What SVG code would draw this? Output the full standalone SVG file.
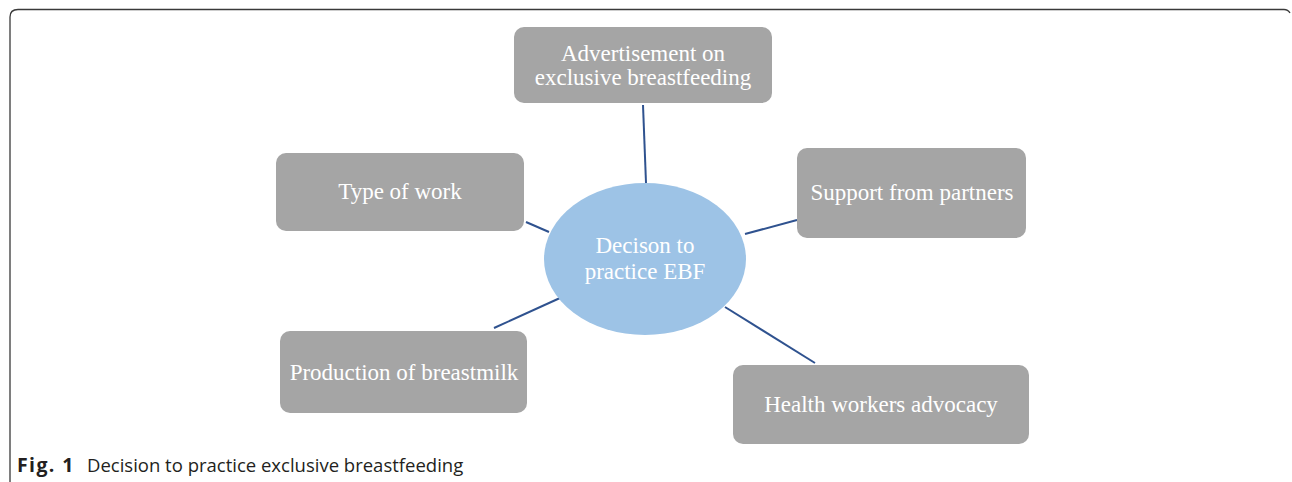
<svg xmlns="http://www.w3.org/2000/svg" width="1292" height="482" viewBox="0 0 1292 482">
  <style>
    .box { fill: #A5A5A5; }
    .lbl { font-family: "Liberation Serif", "Times New Roman", serif; font-size: 23px; fill: #FFFFFF; text-anchor: middle; }
    .link { stroke: #2F528F; stroke-width: 2; fill: none; }
    .cap { font-family: "Open Sans", "Liberation Sans", sans-serif; font-size: 18.5px; fill: #231F20; }
  </style>
  <rect width="1292" height="482" fill="#FFFFFF"/>

  <!-- figure frame: open at the bottom -->
  <path d="M10,482 V17 Q10,9.5 18,9.5 H1284 Q1288,9.5 1290,13" fill="none" stroke="#3A3A3A" stroke-width="1.3"/>

  <g id="connectors">
    <line class="link" x1="643" y1="105" x2="646" y2="183"/>
    <line class="link" x1="526" y1="222" x2="549" y2="232"/>
    <line class="link" x1="745" y1="234" x2="797" y2="220"/>
    <line class="link" x1="494" y1="328" x2="560" y2="298"/>
    <line class="link" x1="725" y1="307" x2="815" y2="363"/>
  </g>

  <g id="center">
    <ellipse cx="645" cy="259" rx="101" ry="76" fill="#9DC3E6"/>
    <text class="lbl" x="645" y="253">Decison to</text>
    <text class="lbl" x="645" y="279">practice EBF</text>
  </g>

  <g id="advertisement">
    <rect class="box" x="514" y="27" width="258" height="76" rx="10"/>
    <text class="lbl" x="643" y="61">Advertisement on</text>
    <text class="lbl" x="643" y="85">exclusive breastfeeding</text>
  </g>

  <g id="type-of-work">
    <rect class="box" x="276" y="153" width="248" height="78" rx="10"/>
    <text class="lbl" x="400" y="199">Type of work</text>
  </g>

  <g id="support-from-partners">
    <rect class="box" x="797" y="148" width="229" height="90" rx="10"/>
    <text class="lbl" x="912" y="200">Support from partners</text>
  </g>

  <g id="production-of-breastmilk">
    <rect class="box" x="280" y="331" width="247" height="82" rx="10"/>
    <text class="lbl" x="404" y="380">Production of breastmilk</text>
  </g>

  <g id="health-workers-advocacy">
    <rect class="box" x="733" y="365" width="296" height="79" rx="10"/>
    <text class="lbl" x="881" y="412">Health workers advocacy</text>
  </g>

  <text class="cap" y="472"><tspan x="17" font-weight="bold" font-size="19.5" letter-spacing="1.4">Fig. 1</tspan><tspan x="87">Decision to practice exclusive breastfeeding</tspan></text>
</svg>
